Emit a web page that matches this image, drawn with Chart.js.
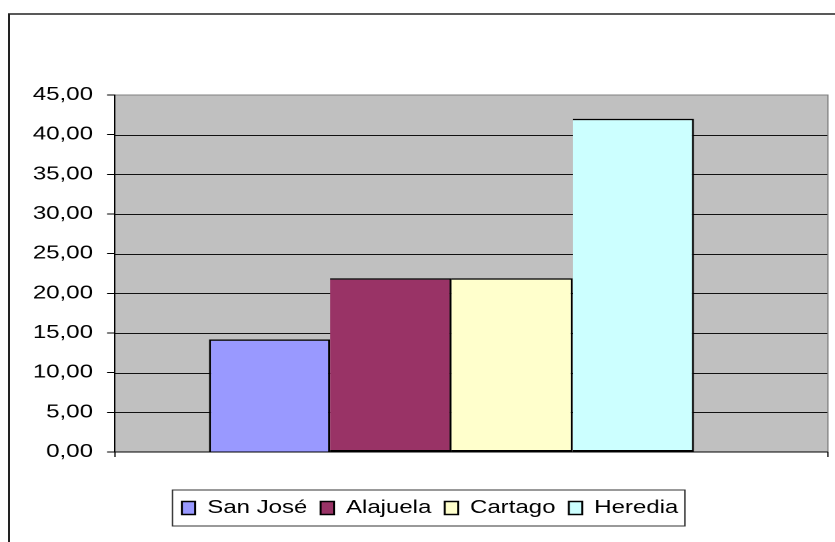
<!DOCTYPE html>
<html>
<head>
<meta charset="utf-8">
<script src="https://cdn.jsdelivr.net/npm/chart.js@4.4.1/dist/chart.umd.min.js"></script>
<style>
  html, body { margin: 0; padding: 0; background: #fff; overflow: hidden; }
  /* the reference is an Excel chart stretched sideways, so draw narrow and stretch */
  #wrap { position: absolute; left: 0; top: 0; width: 626px; height: 542px;
          transform: scaleX(1.333866); transform-origin: 0 0; }
</style>
</head>
<body>
<div id="wrap"><canvas id="myChart"></canvas></div>
<script>
// Values
var categories = [''];
var seriesNames = ['San José', 'Alajuela', 'Cartago', 'Heredia'];
var seriesValues = [14.2, 21.9, 21.9, 42.0];
var seriesColors = ['#9999ff', '#993366', '#ffffcc', '#ccffff'];
var yTicks = [0, 5, 10, 15, 20, 25, 30, 35, 40, 45];

var FONT = '"Liberation Sans", Arial, sans-serif';

// Gray plot area, gridlines, axis line and the frames around chart and legend
var plotFrame = {
    id: 'plotFrame',
    beforeDraw: function(chart) {
        var ctx = chart.ctx, a = chart.chartArea, y = chart.scales.y;
        var right = chart.scales.y2.right;
        ctx.save();
        ctx.strokeStyle = '#222';
        ctx.lineWidth = 1.5;
        ctx.strokeRect(6.75, 14, chart.width, chart.height);

        ctx.fillStyle = '#c0c0c0';
        ctx.fillRect(a.left, a.top, right - a.left, a.bottom - a.top);

        ctx.strokeStyle = '#111';
        ctx.lineWidth = 1;
        yTicks.forEach(function(v) {
            if (v === y.min || v === y.max) return;
            var py = Math.round(y.getPixelForValue(v)) + 0.5;
            ctx.beginPath();
            ctx.moveTo(a.left, py);
            ctx.lineTo(right, py);
            ctx.stroke();
        });

        ctx.strokeStyle = '#808080';
        ctx.beginPath();
        ctx.moveTo(a.left, a.top);
        ctx.lineTo(right, a.top);
        ctx.lineTo(right, a.bottom);
        ctx.stroke();

        ctx.strokeStyle = '#000';
        ctx.beginPath();
        ctx.moveTo(a.left, a.bottom);
        ctx.lineTo(right, a.bottom);
        ctx.moveTo(a.left, a.bottom);
        ctx.lineTo(a.left, a.bottom + 5);
        ctx.moveTo(right, a.bottom);
        ctx.lineTo(right, a.bottom + 5);
        ctx.stroke();
        ctx.restore();
    },
    afterDraw: function(chart) {
        var boxes = chart.legend.legendHitBoxes;
        if (!boxes || !boxes.length) return;
        var ctx = chart.ctx;
        var first = boxes[0], last = boxes[boxes.length - 1];
        var cy = first.top + first.height / 2;
        var left = first.left - 7;
        var right = last.left + last.width + 5;
        ctx.save();
        ctx.strokeStyle = '#333';
        ctx.lineWidth = 1;
        ctx.strokeRect(left, cy - 18, right - left, 36);
        ctx.restore();
    }
};

var datasets = seriesNames.map(function(name, i) {
    return {
        label: name,
        data: [seriesValues[i]],
        backgroundColor: seriesColors[i],
        borderColor: '#000',
        borderWidth: 1.5,
        // neighbouring bars share one edge line, like the reference
        borderSkipped: i === 0 ? 'start' : 'left',
        categoryPercentage: 0.7208,
        barPercentage: 1
    };
});

var ctx = document.getElementById('myChart').getContext('2d');
var myChart = new Chart(ctx, {
    type: 'bar',
    data: {
        labels: categories,
        datasets: datasets
    },
    options: {
        responsive: true,
        maintainAspectRatio: false,
        devicePixelRatio: 2,
        animation: false,
        layout: {
            padding: { top: 95, left: 24.1, right: 5.3, bottom: 15 }
        },
        scales: {
            x: {
                ticks: { display: false },
                grid: { display: false },
                border: { display: false },
                afterFit: function(s) { s.height = 37; }
            },
            y: {
                min: 0,
                max: 45,
                afterBuildTicks: function(s) {
                    s.ticks = yTicks.map(function(v) { return { value: v }; });
                },
                ticks: {
                    color: '#000',
                    padding: 10.5,
                    font: { family: FONT, size: 18 },
                    callback: function(v) { return Number(v).toFixed(2).replace('.', ','); }
                },
                grid: { drawOnChartArea: false, color: '#000', tickLength: 6 },
                border: { color: '#000', width: 1 },
                afterFit: function(s) { s.width = 62.1; }
            },
            y2: {
                type: 'linear',
                position: 'right',
                ticks: { display: false },
                grid: { display: false },
                border: { display: false },
                afterFit: function(s) { s.width = 30; }
            }
        },
        plugins: {
            legend: {
                position: 'bottom',
                labels: {
                    boxWidth: 10,
                    boxHeight: 13,
                    padding: 10,
                    color: '#000',
                    font: { family: FONT, size: 18 }
                }
            },
            tooltip: { enabled: false }
        }
    },
    plugins: [plotFrame]
});
</script>
</body>
</html>
